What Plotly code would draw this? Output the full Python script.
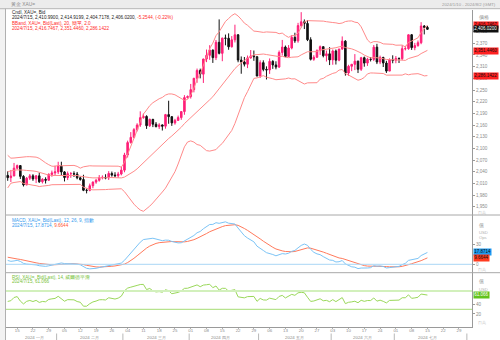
import pandas as pd
import numpy as np
import plotly.graph_objects as go

# ---------------- data (XAU= daily) ----------------
start_date = "2024-01-10"
end_date = "2024-07-15"

open_ = [2030.6, 2024.7, 2028.9,
         2049.1, 2055.7, 2028.0, 2006.0, 2023.2,
         2029.3, 2021.5, 2029.3, 2014.1, 2020.3,
         2018.1, 2032.9, 2036.9, 2039.5, 2054.1,
         2039.4, 2024.9, 2035.0, 2035.0, 2033.9,
         2024.2, 2019.9, 1992.3, 1992.0, 2004.0,
         2013.2, 2017.8, 2024.8, 2025.4, 2024.0,
         2035.4, 2031.2, 2029.7, 2034.0, 2044.0,
         2082.9, 2114.8, 2128.3, 2148.1, 2159.9,
         2178.9, 2182.0, 2158.2, 2174.5, 2162.1,
         2155.9, 2160.2, 2157.0, 2186.7, 2181.5,
         2165.4, 2171.9, 2179.0, 2194.5, 2230.5,
         2233.0, 2250.9, 2280.1, 2300.2, 2290.7,
         2329.7, 2339.1, 2352.6, 2333.2, 2372.6,
         2344.2, 2383.3, 2383.0, 2361.1, 2379.0,
         2391.9, 2327.0, 2322.1, 2316.3, 2332.4,
         2337.6, 2335.6, 2286.0, 2320.3, 2303.0,
         2301.6, 2323.6, 2314.4, 2309.0, 2346.4,
         2360.3, 2336.1, 2357.9, 2385.3, 2376.3,
         2415.6, 2425.3, 2421.1, 2379.2, 2329.0,
         2334.2, 2351.1, 2361.4, 2338.1, 2343.0,
         2327.3, 2350.3, 2326.7, 2355.4, 2375.6,
         2293.7, 2311.0, 2316.0, 2324.2, 2303.2,
         2333.0, 2319.2, 2329.1, 2328.7, 2360.1,
         2321.9, 2333.7, 2319.4, 2298.6, 2327.1,
         2326.4, 2331.2, 2330.4, 2356.2, 2356.3,
         2392.0, 2358.9, 2364.2, 2371.6, 2414.6,
         2410.99]
high = [2040.9, 2044.5, 2062.5,
        2058.3, 2057.0, 2031.0, 2026.4, 2034.0,
        2033.6, 2031.2, 2037.1, 2023.3, 2025.6,
        2036.0, 2042.8, 2055.5, 2065.5, 2065.6,
        2041.3, 2040.5, 2039.1, 2041.0, 2039.3,
        2027.4, 2032.1, 1996.4, 2009.4, 2015.1,
        2021.6, 2031.3, 2030.5, 2033.4, 2041.4,
        2040.4, 2038.6, 2039.5, 2052.2, 2088.5,
        2119.8, 2141.7, 2152.0, 2164.5, 2195.2,
        2189.3, 2185.1, 2176.5, 2175.8, 2167.5,
        2164.6, 2161.6, 2188.5, 2222.4, 2182.6,
        2175.9, 2184.2, 2195.0, 2236.7, 2236.0,
        2265.6, 2281.1, 2305.1, 2304.9, 2330.3,
        2354.0, 2365.2, 2354.2, 2378.6, 2431.5,
        2384.6, 2392.5, 2395.6, 2388.6, 2417.9,
        2393.4, 2336.3, 2334.8, 2338.6, 2352.8,
        2351.5, 2336.2, 2326.4, 2326.3, 2310.8,
        2331.1, 2326.6, 2323.8, 2351.5, 2378.7,
        2364.3, 2365.5, 2391.4, 2397.2, 2422.6,
        2450.1, 2431.4, 2429.6, 2385.6, 2339.5,
        2354.6, 2364.4, 2361.9, 2351.4, 2360.1,
        2354.2, 2354.1, 2355.7, 2387.7, 2378.2,
        2314.8, 2317.1, 2342.3, 2325.3, 2335.2,
        2335.9, 2332.8, 2334.5, 2365.7, 2368.7,
        2338.4, 2335.4, 2325.0, 2331.2, 2339.2,
        2337.3, 2333.6, 2365.0, 2363.7, 2392.8,
        2393.9, 2371.1, 2377.3, 2424.4, 2417.0,
        2414.92]
low = [2016.6, 2013.5, 2028.7,
       2046.0, 2021.3, 2001.9, 2005.3, 2018.5,
       2016.5, 2010.7, 2011.1, 2009.8, 2009.6,
       2016.3, 2027.0, 2031.3, 2033.9, 2030.9,
       2014.9, 2018.5, 2024.2, 2026.4, 2020.4,
       2016.8, 1990.0, 1984.3, 1989.6, 1997.5,
       2008.9, 2014.4, 2020.3, 2020.5, 2018.6,
       2027.3, 2025.6, 2024.3, 2030.5, 2038.5,
       2076.4, 2112.3, 2125.8, 2143.5, 2155.2,
       2176.2, 2150.0, 2155.0, 2154.6, 2153.9,
       2149.9, 2145.8, 2150.6, 2163.2, 2157.7,
       2160.9, 2170.3, 2173.3, 2186.3, 2228.0,
       2228.0, 2243.9, 2268.5, 2279.9, 2268.1,
       2321.6, 2327.5, 2319.6, 2326.9, 2341.5,
       2324.0, 2364.8, 2353.4, 2359.2, 2372.2,
       2321.3, 2291.8, 2310.5, 2306.3, 2330.6,
       2325.0, 2285.2, 2281.0, 2298.1, 2277.1,
       2291.4, 2304.3, 2303.2, 2306.7, 2338.6,
       2334.2, 2336.0, 2354.5, 2371.1, 2371.5,
       2410.9, 2406.7, 2375.7, 2325.9, 2325.0,
       2333.3, 2340.2, 2333.9, 2323.2, 2314.1,
       2314.9, 2315.5, 2323.9, 2353.3, 2286.9,
       2286.4, 2298.4, 2301.1, 2293.6, 2299.0,
       2309.9, 2311.9, 2323.4, 2324.3, 2316.6,
       2316.5, 2309.1, 2293.8, 2298.4, 2318.7,
       2318.8, 2319.4, 2326.2, 2351.7, 2353.4,
       2353.0, 2352.2, 2361.3, 2367.7, 2392.9,
       2404.72]
close = [2024.7, 2028.9, 2049.1,
         2055.7, 2028.0, 2006.0, 2023.2, 2029.3,
         2021.5, 2029.3, 2014.1, 2020.3, 2018.1,
         2032.9, 2036.9, 2039.5, 2054.1, 2039.4,
         2024.9, 2035.0, 2035.0, 2033.9, 2024.2,
         2019.9, 1992.3, 1992.0, 2004.0, 2013.2,
         2017.8, 2024.8, 2025.4, 2024.0, 2035.4,
         2031.2, 2029.7, 2034.0, 2044.0, 2082.9,
         2114.8, 2128.3, 2148.1, 2159.9, 2178.9,
         2182.0, 2158.2, 2174.5, 2162.1, 2155.9,
         2160.2, 2157.0, 2186.7, 2181.5, 2165.4,
         2171.9, 2179.0, 2194.5, 2230.5, 2233.0,
         2250.9, 2280.1, 2300.2, 2290.7, 2329.7,
         2339.1, 2352.6, 2333.2, 2372.6, 2344.2,
         2383.3, 2383.0, 2361.1, 2379.0, 2391.9,
         2327.0, 2322.1, 2316.3, 2332.4, 2337.6,
         2335.6, 2286.0, 2320.3, 2303.0, 2301.6,
         2323.6, 2314.4, 2309.0, 2346.4, 2360.3,
         2336.1, 2357.9, 2385.3, 2376.3, 2415.6,
         2425.3, 2421.1, 2379.2, 2329.0, 2334.2,
         2351.1, 2361.4, 2338.1, 2343.0, 2327.3,
         2350.3, 2326.7, 2355.4, 2375.6, 2293.7,
         2311.0, 2316.0, 2324.2, 2303.2, 2333.0,
         2319.2, 2329.1, 2328.7, 2360.1, 2321.9,
         2333.7, 2319.4, 2298.6, 2327.1, 2326.4,
         2331.2, 2330.4, 2356.2, 2356.3, 2392.0,
         2358.9, 2364.2, 2371.6, 2414.6, 2411.27,
         2406.02]
# closes before the visible window (Nov 2023 - Jan 9 2024), for indicator warm-up
warmup_close = [1983.0, 1985.6, 1992.6, 1978.0, 1969.6, 1950.4, 1958.3, 1940.2,
                1946.0, 1963.0, 1959.2, 1981.2, 1980.5, 1977.9, 1998.2, 1990.1,
                1992.4, 2002.4, 2014.3, 2041.3, 2044.3, 2036.0,
                2071.9, 2029.1, 2018.9, 2025.6, 2028.4, 2004.6, 1981.4, 1979.9,
                2026.9, 2035.9, 2019.5, 2027.0, 2040.3, 2031.2, 2045.4, 2053.1,
                2067.1, 2077.5, 2065.1, 2062.9,
                2058.2, 2041.2, 2043.2, 2045.3, 2028.0, 2030.5]

# last values as printed on the chart
bb_last = [2416.7467, 2351.4460, 2286.1422]
last_close = 2406.0200
macd_last = [17.8714, 9.6644]
rsi_last = 61.066

price_ticks = [1950, 1980, 2010, 2040, 2070, 2100, 2130, 2160, 2190, 2220,
               2250, 2280, 2310, 2340, 2370, 2400]
macd_ticks = [0, 30]
rsi_ticks = [20, 40]
rsi_levels = [70, 30]
week_ticks = ["2024-01-15", "2024-01-22", "2024-01-29", "2024-02-05", "2024-02-12",
              "2024-02-19", "2024-02-26", "2024-03-04", "2024-03-11", "2024-03-18",
              "2024-03-25", "2024-04-01", "2024-04-08", "2024-04-15", "2024-04-22",
              "2024-04-29", "2024-05-06", "2024-05-13", "2024-05-20", "2024-05-27",
              "2024-06-03", "2024-06-10", "2024-06-17", "2024-06-24", "2024-07-01",
              "2024-07-08", "2024-07-15", "2024-07-22", "2024-07-29"]
month_names = ["2024 一月", "2024 二月", "2024 三月", "2024 四月",
               "2024 五月", "2024 六月", "2024 七月"]

# ---------------- indicators ----------------
dates = pd.bdate_range(start_date, end_date)
n = len(close)
assert len(dates) == n
allc = pd.Series(warmup_close + close, dtype=float)
mid = allc.rolling(20).mean()
sd = allc.rolling(20).std(ddof=0)
bb_up = (mid + 2 * sd).iloc[-n:].values
bb_mid = mid.iloc[-n:].values
bb_lo = (mid - 2 * sd).iloc[-n:].values
ema12 = allc.ewm(span=12, adjust=False).mean()
ema26 = allc.ewm(span=26, adjust=False).mean()
macd = ema12 - ema26
sig = macd.ewm(span=9, adjust=False).mean()
macd_v = macd.iloc[-n:].values
sig_v = sig.iloc[-n:].values
delta = allc.diff()
ag = delta.clip(lower=0).ewm(alpha=1 / 14, adjust=False).mean()
al = (-delta.clip(upper=0)).ewm(alpha=1 / 14, adjust=False).mean()
rsi = (100 - 100 / (1 + ag / al)).iloc[-n:].values

# ---------------- geometry (pixels) ----------------
W, H = 500, 340
X0, X1 = 6, 472
MAIN = (10, 215)
MACDP = (215, 272.7)
RSIP = (272.7, 326.7)


def py(ypx):
    return 1 - ypx / H


def px(xpx):
    return xpx / W


PINK = "#ff1f78"
DARK = "#111111"
BBC = "#ff8a8a"
BLUE = "#7cc4f6"
SIGC = "#ff7a5c"
GREEN = "#9ad85a"
GREY = "#8c8c8c"
FONT = "Liberation Sans"

fig = go.Figure()
fig.add_trace(go.Candlestick(
    x=dates, open=open_, high=high, low=low, close=close,
    increasing=dict(line=dict(color=PINK, width=1), fillcolor=PINK),
    decreasing=dict(line=dict(color=DARK, width=1), fillcolor=DARK),
    whiskerwidth=0, xaxis="x", yaxis="y", showlegend=False, hoverinfo="skip"))
for s in (bb_up, bb_mid, bb_lo):
    fig.add_trace(go.Scatter(x=dates, y=s, mode="lines", line=dict(color=BBC, width=1),
                             xaxis="x", yaxis="y", showlegend=False, hoverinfo="skip"))
fig.add_trace(go.Scatter(x=dates, y=sig_v, mode="lines", line=dict(color=SIGC, width=1),
                         xaxis="x", yaxis="y2", showlegend=False, hoverinfo="skip"))
fig.add_trace(go.Scatter(x=dates, y=macd_v, mode="lines", line=dict(color=BLUE, width=1),
                         xaxis="x", yaxis="y2", showlegend=False, hoverinfo="skip"))
fig.add_trace(go.Scatter(x=dates, y=rsi, mode="lines", line=dict(color=GREEN, width=1),
                         xaxis="x", yaxis="y3", showlegend=False, hoverinfo="skip"))

# month boundaries and label centres
month_bounds = []
per = pd.Series(dates).dt.to_period("M")
for i in range(1, n):
    if per.iloc[i] != per.iloc[i - 1]:
        month_bounds.append(dates[i - 1] + pd.Timedelta(hours=12))
month_bounds.append(pd.Timestamp("2024-07-31 12:00"))
x_start = pd.Timestamp("2024-01-09 11:00")
x_end = pd.Timestamp("2024-08-02 03:00")

shapes = []
# title bar
shapes.append(dict(type="rect", xref="paper", yref="paper", x0=0, x1=1, y0=py(8.5), y1=1,
                   fillcolor="#ececec", line=dict(width=0), layer="below"))
shapes.append(dict(type="line", xref="paper", yref="paper", x0=0, x1=1, y0=py(8.7), y1=py(8.7),
                   line=dict(color="#b5b5b5", width=1)))
# left frame
shapes.append(dict(type="rect", xref="paper", yref="paper", x0=0, x1=px(5), y0=0, y1=py(8.7),
                   fillcolor="#f2f2f2", line=dict(width=0), layer="below"))
shapes.append(dict(type="line", xref="paper", yref="paper", x0=px(5.5), x1=px(5.5), y0=0, y1=py(8.7),
                   line=dict(color="#b0b0b0", width=1)))
# panel separators
for yy in (MAIN[1], MACDP[1]):
    shapes.append(dict(type="line", xref="paper", yref="paper", x0=px(X0), x1=1, y0=py(yy), y1=py(yy),
                       line=dict(color="#a8a8a8", width=1)))
# zero line MACD, RSI levels
shapes.append(dict(type="line", xref="paper", yref="y2", x0=px(X0), x1=px(X1), y0=0, y1=0,
                   line=dict(color="#a9d6f5", width=1)))
shapes.append(dict(type="line", xref="paper", yref="y3", x0=px(X0), x1=px(X1), y0=rsi_levels[0],
                   y1=rsi_levels[0], line=dict(color="#d2f0bc", width=2)))
shapes.append(dict(type="line", xref="paper", yref="y3", x0=px(X0), x1=px(X1), y0=rsi_levels[1],
                   y1=rsi_levels[1], line=dict(color="#a6dc72", width=1)))
# month separators on time axis
for b in month_bounds:
    shapes.append(dict(type="line", xref="x", yref="paper", x0=b, x1=b, y0=0, y1=py(333.5),
                       line=dict(color="#b8b8b8", width=1)))

ann = []


def text(t, xpx, ypx, color="#222", size=4.6, xanchor="left", bg=None, yref="paper", yval=None):
    d = dict(text=t, xref="paper", x=px(xpx), showarrow=False, xanchor=xanchor, yanchor="middle",
             font=dict(family=FONT, size=size, color=color))
    if yval is None:
        d.update(yref="paper", y=py(ypx))
    else:
        d.update(yref=yref, y=yval)
    if bg:
        d.update(bgcolor=bg, borderpad=0.3)
    ann.append(d)


RED = "#ff2b2b"
text("黃金 XAU=", 9, 4.3, color="#8a8a8a", size=4.8)
text("2024/1/10 - 2024/8/2 (GMT)", 498, 4.3, color="#9a9a9a", size=4.3, xanchor="right")
text("Cndl, XAU=, Bid", 9.5, 12.4, color="#222")
text("2024/7/15, 2,410.9900, 2,414.9199, 2,404.7178, 2,406.0200, "
     "<span style='color:%s'>-5.2544, (-0.22%%)</span>" % RED, 9.5, 17.7, color="#222")
text("BBand, XAU=, Bid(Last), 20, 簡單, 2.0", 9.5, 22.8, color=RED)
text("2024/7/15, 2,416.7467, 2,351.4460, 2,286.1422", 9.5, 28.2, color=RED)
text("MACD, XAU=, Bid(Last), 12, 26, 9, 指數", 9.5, 220.0, color="#3399ee")
text("2024/7/15, 17.8714, <span style='color:%s'>9.6644</span>" % "#ff5533", 9.5, 225.2, color="#3399ee")
text("RSI, XAU=, Bid(Last), 14, 威爾德平滑", 9.5, 276.6, color="#77c23a")
text("2024/7/15, 61.066", 9.5, 281.8, color="#77c23a")

# axis captions
text("價格", 477, 17, color=GREY, size=4.8)
text("值", 477, 225, color=GREY, size=4.8)
text("USD", 477, 232.3, color="#b0b0b0", size=4.2)
text("Ops", 477, 237.7, color="#b0b0b0", size=4.2)
text("值", 477, 281.7, color=GREY, size=4.8)
text("USD", 477, 289, color="#b0b0b0", size=4.2)
for yy in (212.6, 269.6, 322.8):
    text("百萬", 476, yy, color="#b0b0b0", size=4.0)

# last value boxes
for v in bb_last:
    text("{:,.4f}".format(v), 472.5, 0, color="#111", size=4.5, bg="#ff2020", yref="y", yval=v)
text("{:,.4f}".format(last_close), 472.5, 0, color="#ffffff", size=4.5, bg="#111111", yref="y",
     yval=last_close)
text("{:.4f}".format(macd_last[0]), 472.5, 0, color="#111", size=4.5, bg="#1e9bf0", yref="y2",
     yval=macd_last[0])
text("{:.4f}".format(macd_last[1]), 472.5, 0, color="#111", size=4.5, bg="#ff3b1f", yref="y2",
     yval=macd_last[1])
text("{:.3f}".format(rsi_last), 472.5, 0, color="#ffffff", size=4.5, bg="#62c21c", yref="y3",
     yval=rsi_last)

# month labels
bounds = [x_start] + month_bounds
for i, name in enumerate(month_names):
    a, b = bounds[i], bounds[i + 1]
    ann.append(dict(text=name, xref="x", yref="paper", x=a + (b - a) / 2, y=py(337.3),
                    showarrow=False, xanchor="center", yanchor="middle",
                    font=dict(family=FONT, size=4.4, color="#8a8a8a")))


def price_range(top_px, bot_px):
    # 1950 sits at y=206.7 px, 30 units per 11.67 px
    k = 30 / 11.67
    return [1950 - (bot_px - 206.7) * k, 1950 + (206.7 - top_px) * k]


axis_common = dict(side="right", anchor="x", showgrid=False, zeroline=False, showline=True,
                   linecolor="#9a9a9a", linewidth=1, ticks="outside", ticklen=2, tickcolor="#9a9a9a",
                   tickfont=dict(family=FONT, size=4.6, color=GREY), fixedrange=True)

fig.update_layout(
    width=W, height=H, margin=dict(l=0, r=0, t=0, b=0),
    paper_bgcolor="white", plot_bgcolor="white",
    showlegend=False,
    xaxis=dict(domain=[px(X0), px(X1)], anchor="y3", type="date",
               rangebreaks=[dict(bounds=["sat", "mon"])],
               range=[x_start, x_end], tickvals=week_ticks,
               ticktext=[pd.Timestamp(t).strftime("%d") for t in week_ticks],
               tickfont=dict(family=FONT, size=4.4, color=GREY), ticks="outside", ticklen=1,
               ticklabelstandoff=-2,
               tickcolor="#b0b0b0", showline=True, linecolor="#9a9a9a", showgrid=False,
               zeroline=False, rangeslider=dict(visible=False), fixedrange=True),
    yaxis=dict(domain=[py(MAIN[1]), py(MAIN[0])], range=price_range(*MAIN),
               tickvals=price_ticks, tickformat=",d", **axis_common),
    yaxis2=dict(domain=[py(MACDP[1]), py(MACDP[0])],
                range=[-(MACDP[1] - 264.3) / 0.667, (264.3 - MACDP[0]) / 0.667],
                tickvals=macd_ticks, **axis_common),
    yaxis3=dict(domain=[py(RSIP[1]), py(RSIP[0])],
                range=[30 - (RSIP[1] - 309.3) / 0.4575, 70 + (291.0 - RSIP[0]) / 0.4575],
                tickvals=rsi_ticks, **axis_common),
    shapes=shapes, annotations=ann,
)

fig.write_html("out.html")
